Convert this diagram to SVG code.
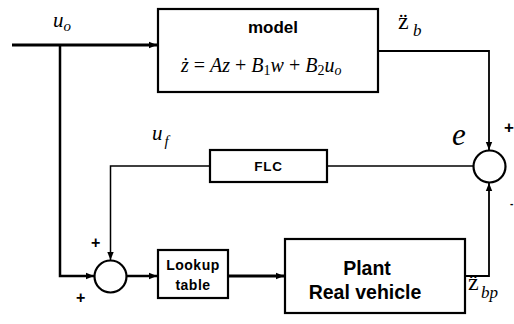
<svg xmlns="http://www.w3.org/2000/svg" width="514" height="324" viewBox="0 0 514 324">
<defs>
<marker id="ah" viewBox="0 0 8 8" refX="8" refY="4" markerWidth="8" markerHeight="8" markerUnits="userSpaceOnUse" orient="auto">
<path d="M0,0.8 L8,4 L0,7.2 Z" fill="#000"/>
</marker>
<style>
.box{fill:#fff;stroke:#000;stroke-width:2.2}
.sum{fill:#fff;stroke:#000;stroke-width:2.2}
.w{fill:none;stroke:#000}
.lbl{font-family:"Liberation Sans",Arial,sans-serif;font-weight:bold;fill:#000}
.m{font-family:"Liberation Serif","DejaVu Serif",serif;font-style:italic;fill:#000}
.mu{font-family:"Liberation Serif","DejaVu Serif",serif;font-style:normal;fill:#000}
</style>
</defs>
<rect width="514" height="324" fill="#fff"/>
<g id="connectors">
<path class="w" d="M12,45 H157" stroke-width="3" marker-end="url(#ah)"/>
<path class="w" d="M60,45 V276 H94" stroke-width="2.5" marker-end="url(#ah)"/>
<path class="w" d="M378,51 H489 V150" stroke-width="1.8" marker-end="url(#ah)"/>
<path class="w" d="M473,166 H327" stroke-width="1.5"/>
<path class="w" d="M210,166 H110.5 V260" stroke-width="1.5" marker-end="url(#ah)"/>
<path class="w" d="M127,276 H157" stroke-width="2.5" marker-end="url(#ah)"/>
<path class="w" d="M228,276 H284" stroke-width="3" marker-end="url(#ah)"/>
<path class="w" d="M465,276 H489 V183" stroke-width="1.8" marker-end="url(#ah)"/>
</g>
<g id="model">
<rect class="box" x="158" y="9" width="220" height="83"/>
<text class="lbl" x="273" y="33" font-size="17" text-anchor="middle">model</text>
<text class="m" x="181" y="72" font-size="20"><tspan>ż</tspan><tspan class="mu"> = </tspan><tspan>Az</tspan><tspan class="mu"> + </tspan><tspan>B</tspan><tspan class="mu" font-size="14" dy="3">1</tspan><tspan dy="-3">w</tspan><tspan class="mu"> + </tspan><tspan>B</tspan><tspan class="mu" font-size="14" dy="3">2</tspan><tspan dy="-3">u</tspan><tspan font-size="14" dy="3">o</tspan></text>
</g>
<g id="flc">
<rect class="box" x="210" y="150" width="117" height="32" stroke-width="1.8"/>
<text class="lbl" x="268.5" y="171" font-size="13.5" text-anchor="middle" letter-spacing="0.8">FLC</text>
</g>
<g id="sum-error">
<circle class="sum" cx="489.5" cy="166.5" r="16"/>
</g>
<g id="sum-input">
<circle class="sum" cx="110.5" cy="276.5" r="16"/>
</g>
<g id="lookup">
<rect class="box" x="158" y="250" width="70" height="48"/>
<text class="lbl" x="193" y="270" font-size="14" text-anchor="middle" letter-spacing="0.5">Lookup</text>
<text class="lbl" x="193" y="290" font-size="14" text-anchor="middle" letter-spacing="0.5">table</text>
</g>
<g id="plant">
<rect class="box" x="285" y="239" width="180" height="74"/>
<text class="lbl" x="367" y="275" font-size="19.5" text-anchor="middle">Plant</text>
<text class="lbl" x="365" y="299" font-size="19.5" text-anchor="middle">Real vehicle</text>
</g>
<g id="labels">
<text class="m" x="53" y="27" font-size="21">u<tspan font-size="15" dy="4">o</tspan></text>
<text class="m" x="152" y="140" font-size="21">u<tspan font-size="15" dx="2" dy="6">f</tspan></text>
<text class="m" x="452" y="145" font-size="31">e</text>
<text class="mu" x="398" y="29" font-size="24">z̈</text>
<text class="m" x="413" y="36" font-size="17">b</text>
<text class="mu" x="468" y="290" font-size="24">z̈</text>
<text class="m" x="481" y="298" font-size="17">bp</text>
<text class="lbl" x="504" y="133" font-size="17">+</text>
<text class="lbl" x="510" y="207" font-size="10">-</text>
<text class="lbl" x="91" y="248" font-size="16">+</text>
<text class="lbl" x="76" y="303" font-size="16">+</text>
</g>
</svg>
